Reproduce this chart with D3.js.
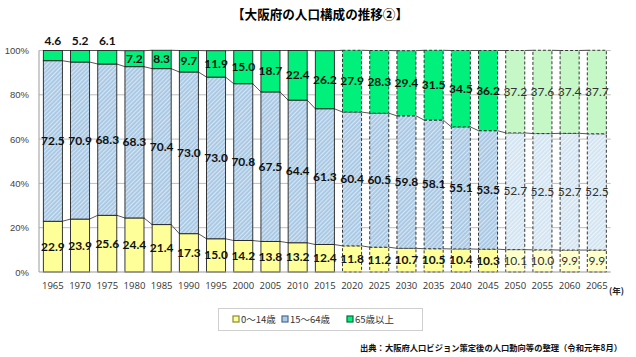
<!DOCTYPE html>
<html><head><meta charset="utf-8">
<script src="https://cdn.jsdelivr.net/npm/d3@7"></script>
<style>body{margin:0;background:#fff}svg{display:block}</style>
</head><body>
<svg id="c" width="636" height="357"></svg>
<script>
const years = ["1965","1970","1975","1980","1985","1990","1995","2000","2005","2010","2015","2020","2025","2030","2035","2040","2045","2050","2055","2060","2065"];
const young = [22.9,23.9,25.6,24.4,21.4,17.3,15.0,14.2,13.8,13.2,12.4,11.8,11.2,10.7,10.5,10.4,10.3,10.1,10.0,9.9,9.9];
const working = [72.5,70.9,68.3,68.3,70.4,73.0,73.0,70.8,67.5,64.4,61.3,60.4,60.5,59.8,58.1,55.1,53.5,52.7,52.5,52.7,52.5];
const elderly = [4.6,5.2,6.1,7.2,8.3,9.7,11.9,15.0,18.7,22.4,26.2,27.9,28.3,29.4,31.5,34.5,36.2,37.2,37.6,37.4,37.7];
const seriesNames = ["0～14歳","15～64歳","65歳以上"];
const yTicks = [0,20,40,60,80,100];
const firstProjected = "2020";
const firstLongTerm = "2050";

const svg = d3.select("#c");
const defs = svg.append("defs");
function hatch(id, base, stripe){
  const p = defs.append("pattern").attr("id",id).attr("patternUnits","userSpaceOnUse")
    .attr("width",3).attr("height",3).attr("patternTransform","rotate(45)");
  p.append("rect").attr("width",3).attr("height",3).attr("fill",base);
  p.append("rect").attr("width",1.1).attr("height",3).attr("fill",stripe);
}
hatch("hb","#a9c8e4","#d6e6f3");
hatch("hb2","#d3e5f2","#edf4fa");

const data = years.map((y,i)=>({year:y,young:young[i],working:working[i],elderly:elderly[i]}));
const keys = ["young","working","elderly"];
const stacked = d3.stack().keys(keys)(data);

const x = d3.scaleBand().domain(years).range([39,610.7]).paddingInner(0.3).paddingOuter(0.16);
const y = d3.scaleLinear().domain([0,100]).range([272,50.5]);

const idx = y0=>years.indexOf(y0);
const isProj = yr=>idx(yr)>=idx(firstProjected);
const isLong = yr=>idx(yr)>=idx(firstLongTerm);

// gridlines
svg.append("g").selectAll("line").data(yTicks.filter(d=>d>0)).join("line")
  .attr("x1",39).attr("x2",610.7).attr("y1",d=>y(d)).attr("y2",d=>y(d))
  .attr("stroke","#bdbdbd").attr("stroke-width",1);

const fills = {
  young:[ "#ffff99","#ffffcc"],
  working:["url(#hb)","url(#hb2)"],
  elderly:["#00f07c","#c6f7c6"]
};

// series lines
const lineG = svg.append("g");
stacked.forEach(s=>{
  for(let i=0;i<years.length-1;i++){
    lineG.append("line")
      .attr("x1",x(years[i])+x.bandwidth()).attr("y1",y(s[i][1]))
      .attr("x2",x(years[i+1])).attr("y2",y(s[i+1][1]))
      .attr("stroke","#444").attr("stroke-width",0.9);
  }
});

// bars
stacked.forEach(s=>{
  svg.append("g").selectAll("rect").data(s).join("rect")
    .attr("x",d=>x(d.data.year)).attr("width",x.bandwidth())
    .attr("y",d=>y(d[1])).attr("height",d=>y(d[0])-y(d[1]))
    .attr("fill",d=>fills[s.key][isLong(d.data.year)?1:0])
    .attr("stroke","#222").attr("stroke-width",0.9)
    .attr("stroke-dasharray",d=>isProj(d.data.year)?"3,2":null);
});

// axes
svg.append("line").attr("x1",39).attr("x2",610.7).attr("y1",272).attr("y2",272).attr("stroke","#9a9a9a");
svg.append("line").attr("x1",39).attr("x2",39).attr("y1",50.5).attr("y2",272).attr("stroke","#9a9a9a");

svg.append("g").selectAll("text").data(yTicks).join("text")
  .attr("x",29).attr("y",d=>y(d)+3.5).attr("text-anchor","end")
  .attr("font-family","Liberation Sans, Arial, sans-serif").attr("font-size",9.5).attr("fill","#444")
  .text(d=>d+"%");

svg.append("g").selectAll("text").data(years).join("text")
  .attr("x",d=>x(d)+x.bandwidth()/2).attr("y",289).attr("text-anchor","middle")
  .attr("font-family","Open Sans, sans-serif").attr("font-size",9.5).attr("fill","#333")
  .text(d=>d);

svg.append("text").attr("x",609).attr("y",294).attr("font-family","Noto Sans CJK JP").attr("font-size",8.5)
  .attr("font-weight","bold").attr("fill","#222").text("(年)");

// value labels
const lab = svg.append("g").attr("font-family","Lato, Open Sans, sans-serif").attr("font-size",12).attr("text-anchor","middle");
stacked.forEach(s=>{
  lab.append("g").selectAll("text").data(s).join("text")
    .attr("x",d=>x(d.data.year)+x.bandwidth()/2)
    .attr("y",d=>{
      const v=d[1]-d[0];
      if(s.key==="elderly" && v<7) return y(d[1])-6;
      return (y(d[0])+y(d[1]))/2+4;
    })
    .attr("font-weight",d=>isLong(d.data.year)?"normal":"bold")
    .attr("fill",d=>isLong(d.data.year)?"#333":"#111")
    .text(d=>(d[1]-d[0]).toFixed(1));
});

// title
svg.append("text").attr("x",320).attr("y",19).attr("text-anchor","middle")
  .attr("font-family","Noto Sans CJK JP").attr("font-size",13).attr("font-weight","bold").attr("fill","#000")
  .attr("textLength",176).attr("lengthAdjust","spacingAndGlyphs")
  .text("【大阪府の人口構成の推移②】");

// legend
const lg = svg.append("g");
lg.append("rect").attr("x",218.5).attr("y",308.5).attr("width",204).attr("height",22)
  .attr("fill","#fff").attr("stroke","#cfcfcf");
const legX = [233,282,347];
const legFill = ["#ffff99","#aecbe6","#00f07c"];
const legStroke = ["#8a8a30","#4a6a8a","#006a3a"];
seriesNames.forEach((n,i)=>{
  lg.append("rect").attr("x",legX[i]).attr("y",316).attr("width",6).attr("height",6)
    .attr("fill",legFill[i]).attr("stroke",legStroke[i]).attr("stroke-width",1.2);
  lg.append("text").attr("x",legX[i]+8).attr("y",323).attr("font-family","Noto Sans CJK JP")
    .attr("font-size",9.5).attr("fill","#333").text(n);
});

// source
svg.append("text").attr("x",622).attr("y",350.5).attr("text-anchor","end")
  .attr("font-family","Noto Sans CJK JP").attr("font-size",8.5).attr("font-weight","bold").attr("fill","#111")
  .attr("textLength",262).attr("lengthAdjust","spacingAndGlyphs")
  .text("出典：大阪府人口ビジョン策定後の人口動向等の整理（令和元年8月）");
</script>
</body></html>
